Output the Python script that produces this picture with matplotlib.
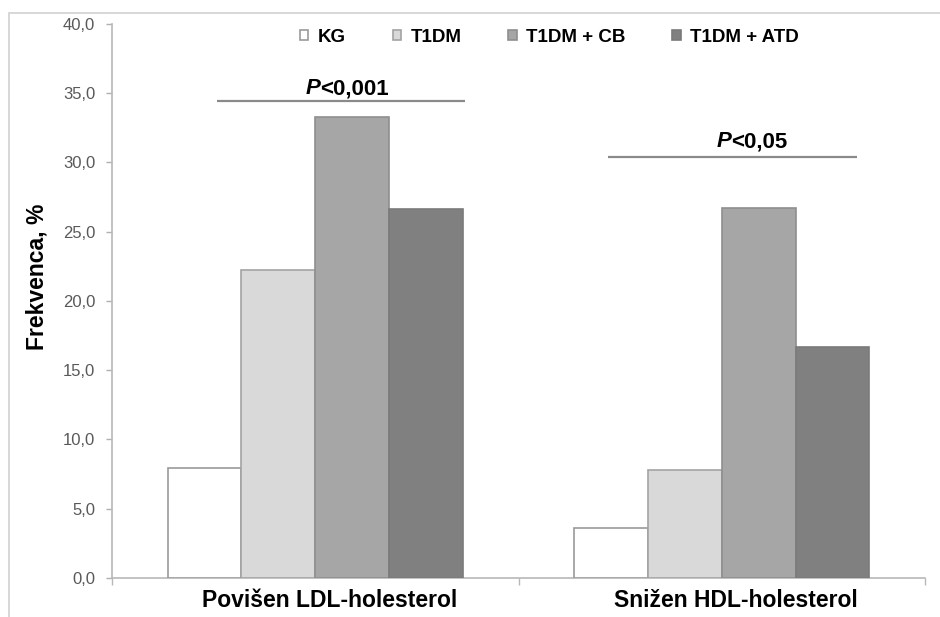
import matplotlib
matplotlib.use("Agg")
import matplotlib.pyplot as plt
import matplotlib.transforms as mtransforms
from matplotlib.patches import Rectangle
import numpy as np

plt.rcParams['font.family'] = ['Liberation Sans', 'DejaVu Sans']

categories = ["Povišen LDL-holesterol", "Snižen HDL-holesterol"]
series = ["KG", "T1DM", "T1DM + CB", "T1DM + ATD"]
kg = [7.9, 3.6]
t1dm = [22.2, 7.8]
t1dm_cb = [33.3, 26.7]
t1dm_atd = [26.6, 16.7]
yticks = [0, 5, 10, 15, 20, 25, 30, 35, 40]
ytick_labels = ["0,0", "5,0", "10,0", "15,0", "20,0", "25,0", "30,0", "35,0", "40,0"]
p_labels = ["<0,001", "<0,05"]
p_line_y = [34.4, 30.4]

fills = ["#ffffff", "#d9d9d9", "#a6a6a6", "#808080"]
edges = ["#9a9a9a", "#a3a3a3", "#8f8f8f", "#7a7a7a"]

W, H = 940, 617
fig = plt.figure(figsize=(W / 100, H / 100), dpi=100)
ax = fig.add_axes([112 / W, 1 - 577.8 / H, (925 - 112) / W, (577.8 - 23.8) / H])

# outer chart frame
fig.patches.append(Rectangle((9 / W, -0.1), 1.2, 1 - 13 / H + 0.1,
                             transform=fig.transFigure, fill=False,
                             edgecolor="#d4d4d4", linewidth=1.3))

x = np.arange(len(categories))
bw = 0.1815
values = [kg, t1dm, t1dm_cb, t1dm_atd]
for i, (name, vals) in enumerate(zip(series, values)):
    ax.bar(x + (i - 1.5) * bw, vals, width=bw, color=fills[i],
           edgecolor=edges[i], linewidth=1.2, label=name, zorder=3)

ax.set_xlim(-0.5, 1.5)
ax.set_ylim(0, 40)
ax.set_yticks(yticks)
ax.set_yticklabels(ytick_labels, fontsize=12, color="#595959")
ax.tick_params(axis="y", length=4, width=1, color="#b0b0b0", pad=8)
ax.set_xticks([-0.5, 0.5, 1.5])
ax.set_xticklabels([])
ax.tick_params(axis="x", length=5, width=1, color="#b8b8b8", direction="out")
for s in ["top", "right"]:
    ax.spines[s].set_visible(False)
for s in ["left", "bottom"]:
    ax.spines[s].set_color("#b8b8b8")
    ax.spines[s].set_linewidth(1.2)

# category labels below the axis
lab_tr = ax.get_xaxis_transform() + mtransforms.ScaledTranslation(14.5 / 100, -29 / 100, fig.dpi_scale_trans)
for xi, c in zip(x, categories):
    ax.text(xi, 0, c, transform=lab_tr, ha="center", va="baseline",
            fontsize=16.5, fontweight="bold", color="black")

fig.text(37 / W, 1 - 276.5 / H, "Frekvenca, %", rotation=90, ha="center",
         va="center", fontsize=16.5, fontweight="bold")

# significance bars
spans = [(-0.2424, 0.368), (0.719, 1.332)]
p_right = [0.0117, 1.024]
p_base = [34.93, 31.08]
for (x0, x1), yl, pr, pb, lab in zip(spans, p_line_y, p_right, p_base, p_labels):
    ax.plot([x0, x1], [yl, yl], color="#8a8a8a", linewidth=1.6, zorder=4,
            solid_capstyle="butt")
    tp = ax.text(pr, pb, "P", ha="right", va="baseline", fontsize=16,
                 fontweight="bold", fontstyle="italic")
    ax.annotate(lab, xy=(1, 0), xycoords=tp, ha="left", va="bottom",
                fontsize=16, fontweight="bold")

fig.legend(loc="center left", bbox_to_anchor=(300 / W, 1 - 37 / H), ncol=4,
           frameon=False, prop={"weight": "bold", "size": 13.5},
           handlelength=0.45, handleheight=0.45, handletextpad=0.5,
           columnspacing=2.5, borderpad=0, borderaxespad=0)

fig.savefig("out.png", dpi=100)
